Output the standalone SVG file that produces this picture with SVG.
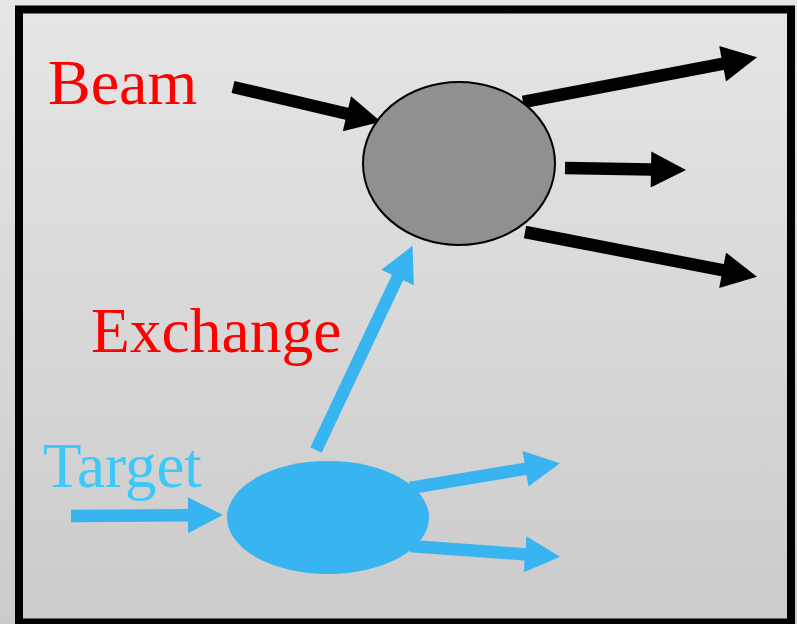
<svg xmlns="http://www.w3.org/2000/svg" width="797" height="624" viewBox="0 0 797 624">
  <defs>
    <linearGradient id="bg" x1="0" y1="0" x2="0" y2="1">
      <stop offset="0" stop-color="#e6e6e6"/>
      <stop offset="1" stop-color="#cbcbcb"/>
    </linearGradient>
    <marker id="headK" markerUnits="userSpaceOnUse" markerWidth="36" markerHeight="36" viewBox="0 0 35 36" refX="1" refY="18" orient="auto">
      <path d="M0,0 L35,18 L0,36 z" fill="#000"/>
    </marker>
    <marker id="headB" markerUnits="userSpaceOnUse" markerWidth="36" markerHeight="36" viewBox="0 0 35 36" refX="1" refY="18" orient="auto">
      <path d="M0,0 L35,18 L0,36 z" fill="#38b4f0"/>
    </marker>
  </defs>
  <style>
    .lbl { font-family: "Liberation Serif", "Times New Roman", serif; font-size: 64px; }
    .k { stroke: #000; stroke-width: 12.5; fill: none; marker-end: url(#headK); }
    .b { stroke: #38b4f0; stroke-width: 12.5; fill: none; marker-end: url(#headB); }
  </style>
  <rect x="0" y="0" width="797" height="624" fill="url(#bg)"/>
  <rect id="frame" x="19" y="9.5" width="772" height="613" fill="none" stroke="#000" stroke-width="8"/>
  <g id="connectors">
    <line class="k" x1="233" y1="87" x2="347.9" y2="114"/>
    <line class="k" x1="523" y1="102" x2="723.6" y2="63.6"/>
    <line class="k" x1="565" y1="168" x2="652" y2="169.4"/>
    <line class="k" x1="525" y1="232" x2="723.6" y2="270.4"/>
    <line class="b" x1="316" y1="450" x2="398" y2="276.6"/>
    <line class="b" x1="71" y1="516" x2="189" y2="515.2"/>
    <line class="b" x1="410" y1="488" x2="526.5" y2="468.7"/>
    <line class="b" x1="410" y1="546" x2="526.1" y2="554.4"/>
  </g>
  <g id="beam-node">
    <ellipse cx="459" cy="163.5" rx="96" ry="81.5" fill="#909090" stroke="#000" stroke-width="2"/>
  </g>
  <g id="target-node">
    <ellipse cx="328" cy="517.5" rx="101" ry="56.5" fill="#38b4f0"/>
  </g>
  <g id="labels">
    <text class="lbl" x="48" y="104" fill="#ff0000">Beam</text>
    <text class="lbl" x="91" y="352" fill="#ff0000" style="font-size:63.5px">Exchange</text>
    <text class="lbl" x="43" y="487" fill="#3cc8f8" style="font-size:63px">Target</text>
  </g>
</svg>
